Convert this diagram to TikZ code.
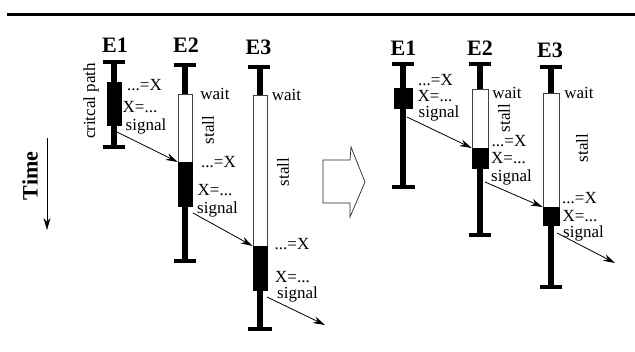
\documentclass[tikz,border=0pt]{standalone}
\usepackage{fontspec}
\setmainfont{Liberation Serif}
\usetikzlibrary{arrows.meta}
\begin{document}
\begin{tikzpicture}[x=1pt,y=-1pt,
  lbl/.style={font=\fontsize{17}{17}\selectfont, inner sep=0pt},
  ename/.style={font=\fontsize{22}{22}\selectfont\bfseries, inner sep=0pt},
  endbar/.style={line width=4pt},
  lifeline/.style={line width=5.5pt},
  busy/.style={fill=black, draw=black, line width=0.6pt, inner sep=0pt, minimum width=14pt, anchor=north},
  idle/.style={fill=white, draw=black!75, line width=0.8pt, inner sep=0pt, minimum width=14pt, anchor=north},
  sig/.style={line width=0.8pt, -{Stealth[length=12pt,width=7pt]}},
]
\useasboundingbox (0,0) rectangle (635,351);
\draw[line width=3pt] (7,14.5) -- (635,14.5);

% Time axis
\node[ename, rotate=90] (time) at (30,176) {Time};
\coordinate (t0) at (47,138);
\coordinate (t1) at (47,230);
\draw[sig] (t0) -- (t1);

% ===== Left panel =====
% E1
\node[ename] (LE1) at (115,45.5) {E1};
\draw[endbar] (103,62) -- (125,62);
\draw[lifeline] (114,62) -- (114,147);
\draw[endbar] (103,147) -- (125,147);
\node[busy, minimum height=43pt] (L1b) at (114,82) {};
\node[lbl, rotate=90] (Lcp) at (91,101) {critcal path};
\node[lbl] (L1a) at (144.5,85) {...=X};
\node[lbl] (L1c) at (140,107) {X=...};
\node[lbl] (L1s) at (146,126) {signal};

% E2
\node[ename] (LE2) at (186,45.5) {E2};
\draw[endbar] (174,64.5) -- (196,64.5);
\draw[lifeline] (185,64.5) -- (185,260.5);
\draw[endbar] (174,260.5) -- (196,260.5);
\node[idle, minimum height=68pt] (L2w) at (185,94) {};
\node[busy, minimum height=44pt] (L2b) at (185,162) {};
\node[lbl] (L2wait) at (215,93.5) {wait};
\node[lbl, rotate=90] (L2st) at (208,130) {stall};
\node[lbl] (L2a) at (218.5,162.5) {...=X};
\node[lbl] (L2c) at (215,190) {X=...};
\node[lbl] (L2s) at (217.5,209) {signal};

% E3
\node[ename] (LE3) at (258.5,47.5) {E3};
\draw[endbar] (248,66.5) -- (270,66.5);
\draw[lifeline] (260,66.5) -- (260,328.5);
\draw[endbar] (248,328.5) -- (272,328.5);
\node[idle, minimum height=151pt] (L3w) at (260,95) {};
\node[busy, minimum height=44pt] (L3b) at (260,246) {};
\node[lbl] (L3wait) at (286.5,94.5) {wait};
\node[lbl, rotate=90] (L3st) at (283,172) {stall};
\node[lbl] (L3a) at (292,244) {...=X};
\node[lbl] (L3c) at (292.5,277.5) {X=...};
\node[lbl] (L3s) at (297.5,294.5) {signal};

% signals
\coordinate (Ls1) at (115,131);
\coordinate (Ls2) at (193,213);
\coordinate (Ls3) at (267,297);
\coordinate (Le3) at (325,325);
\draw[sig] (Ls1) -- (L2b.north west);
\draw[sig] (Ls2) -- (L3b.north west);
\draw[sig] (Ls3) -- (Le3);

% ===== Block arrow =====
\draw[line width=0.7pt, draw=black!85] (323,160) -- (350,160) -- (351,147) -- (365,182)
  -- (350,217) -- (350,203) -- (323,203) -- cycle;

% ===== Right panel =====
% E1
\node[ename] (RE1) at (403.5,48.5) {E1};
\draw[endbar] (392,64) -- (414,64);
\draw[lifeline] (403,64) -- (403,187);
\draw[endbar] (392,187) -- (415,187);
\node[busy, minimum width=18pt, minimum height=20pt] (R1b) at (403,88) {};
\node[lbl] (R1a) at (435.5,80.5) {...=X};
\node[lbl] (R1c) at (435,96.5) {X=...};
\node[lbl] (R1s) at (439,113.5) {signal};

% E2
\node[ename] (RE2) at (480,48) {E2};
\draw[endbar] (469,64) -- (491,64);
\draw[lifeline] (480,64) -- (480,235);
\draw[endbar] (469,235) -- (491,235);
\node[idle, minimum width=16pt, minimum height=59pt] (R2w) at (480,89) {};
\node[busy, minimum width=16pt, minimum height=20pt] (R2b) at (480,148) {};
\node[lbl] (R2wait) at (507,92.5) {wait};
\node[lbl, rotate=90] (R2st) at (504,118) {stall};
\node[lbl] (R2a) at (509,141.5) {...=X};
\node[lbl] (R2c) at (508.5,158) {X=...};
\node[lbl] (R2s) at (511.5,177) {signal};

% E3
\node[ename] (RE3) at (550,50) {E3};
\draw[endbar] (540,66.5) -- (562,66.5);
\draw[lifeline] (551,66.5) -- (551,287);
\draw[endbar] (540,287) -- (562,287);
\node[idle, minimum width=16pt, minimum height=114pt] (R3w) at (551,93) {};
\node[busy, minimum width=16pt, minimum height=18pt] (R3b) at (551,207) {};
\node[lbl] (R3wait) at (579,92.5) {wait};
\node[lbl, rotate=90] (R3st) at (582,148) {stall};
\node[lbl] (R3a) at (579.5,198.5) {...=X};
\node[lbl] (R3c) at (580,216) {X=...};
\node[lbl] (R3s) at (583.5,233) {signal};

% signals
\coordinate (Rs1) at (407,117);
\coordinate (Rs2) at (485,182);
\coordinate (Rs3) at (557,233);
\coordinate (Re3) at (615,263);
\draw[sig] (Rs1) -- (R2b.north west);
\draw[sig] (Rs2) -- (R3b.north west);
\draw[sig] (Rs3) -- (Re3);
\end{tikzpicture}
\end{document}
